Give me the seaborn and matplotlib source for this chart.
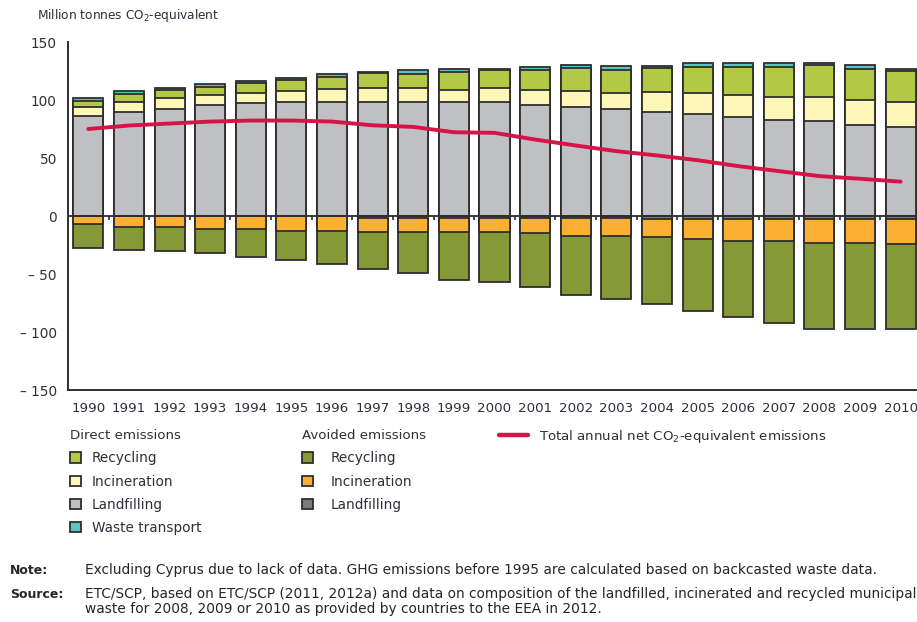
import numpy as np
import pandas as pd
import matplotlib
matplotlib.use("Agg")
import matplotlib.pyplot as plt
import seaborn as sns
from matplotlib.patches import Patch
from matplotlib.lines import Line2D

years = [str(y) for y in range(1990, 2011)]

# Direct emissions (Mt CO2-eq)
direct_landfilling = [86, 89.5, 92.5, 95.5, 97, 98, 98.5, 98.5, 98.5, 98.5, 98.5,
                      95.5, 94, 92, 89.5, 87.5, 85, 83, 82, 78.5, 77]
direct_incineration = [8, 9, 9, 9, 9, 9.5, 11, 12, 11.5, 10.5, 12,
                       13.5, 14, 14, 17, 18.5, 19.5, 20, 21, 21.5, 21]
direct_recycling = [5.5, 7, 7.5, 7, 8.5, 10, 10, 12.5, 12.5, 15, 15,
                    16.5, 19.5, 20, 21, 22.5, 24, 25.5, 27, 27, 27]
direct_transport = [2.5, 2, 1.5, 2, 1.5, 1.5, 3, 1.5, 3, 3, 1.5,
                    3, 3, 3, 1.5, 3.5, 3.5, 3.5, 1.5, 3.5, 1.5]

# Avoided emissions (Mt CO2-eq, shown as negative)
avoided_landfilling = [0, 0, 0, 0, 0, 0, 0, 1.5, 1.5, 1.5, 1.5,
                       1.5, 1.5, 1.5, 2.5, 2.5, 2.5, 2.5, 2.5, 2.5, 2.5]
avoided_incineration = [7, 9.5, 9.5, 11, 11, 13, 13, 12, 12.5, 12.5, 12,
                        13.5, 15.5, 15.5, 16, 17.5, 19, 19, 20.5, 20.5, 22]
avoided_recycling = [20.5, 20, 21, 21, 24.5, 25, 28.5, 32.5, 35, 41, 43,
                     46, 51.5, 54.5, 57.5, 62, 65.5, 71, 74, 74, 72.5]

# Total annual net emissions
net_total = [75, 78, 79.7, 81.4, 82.3, 82.3, 81.4, 78.2, 76.8, 72.2, 71.7,
             65.9, 60.8, 55.9, 52.2, 48.1, 43, 38.7, 34.4, 32.1, 29.6]

yticks = [150, 100, 50, 0, -50, -100, -150]
ytick_labels = ["150", "100", "50", "0", "\u2013 50", "\u2013 100", "\u2013 150"]

c_d_rec = "#b3c945"
c_d_inc = "#fff7b8"
c_d_lan = "#bfc0c4"
c_d_tra = "#5fc3c3"
c_a_rec = "#859a37"
c_a_inc = "#fbb034"
c_a_lan = "#7c7c7e"
c_net = "#d51548"
edge = "#2e2e2e"
txt = "#2f2f3a"

df = pd.DataFrame({
    "year": years,
    "dl": direct_landfilling, "di": direct_incineration,
    "dr": direct_recycling, "dt": direct_transport,
    "al": avoided_landfilling, "ai": avoided_incineration, "ar": avoided_recycling,
    "net": net_total,
})
df["pos_l"] = df["dl"]
df["pos_li"] = df["pos_l"] + df["di"]
df["pos_lir"] = df["pos_li"] + df["dr"]
df["pos_all"] = df["pos_lir"] + df["dt"]
df["neg_l"] = -df["al"]
df["neg_li"] = df["neg_l"] - df["ai"]
df["neg_all"] = df["neg_li"] - df["ar"]
df["idx"] = np.arange(len(df))

sns.set_style("white")
plt.rcParams["font.family"] = ["DejaVu Sans"]

fig = plt.figure(figsize=(9.17, 6.22), dpi=100)
ax = fig.add_axes([68 / 917, 1 - 390 / 622, 853 / 917, 348 / 622])

bw = 0.74
layers = [
    ("pos_all", c_d_tra), ("pos_lir", c_d_rec), ("pos_li", c_d_inc), ("pos_l", c_d_lan),
    ("neg_all", c_a_rec), ("neg_li", c_a_inc), ("neg_l", c_a_lan),
]
for col, colr in layers:
    sns.barplot(data=df, x="year", y=col, color=colr, width=bw,
                edgecolor=edge, linewidth=1.3, saturation=1, ax=ax, zorder=2)

sns.lineplot(data=df, x="idx", y="net", color=c_net, linewidth=2.8, ax=ax,
             zorder=5, legend=False)

n = len(years)
ax.axhline(0, color=edge, linewidth=1.3, zorder=4)
bounds = np.arange(n) - 0.5
ax.vlines(bounds[1:], -3.5, 0, color=edge, linewidth=1.2, zorder=4)

ax.set_xlim(-0.46, n - 1 + 0.46)
ax.set_ylim(-150, 150)
ax.set_yticks(yticks)
ax.set_yticklabels(ytick_labels)
ax.set_xticks(np.arange(n))
ax.set_xticklabels(years)
ax.set_xticks(np.append(bounds, n - 0.5), minor=True)
ax.tick_params(axis="x", which="major", length=0, pad=9, labelsize=9.6, labelcolor=txt)
ax.tick_params(axis="x", which="minor", length=4.5, width=1.3, color=edge, direction="out")
ax.tick_params(axis="y", length=5, width=1.3, color=edge, direction="out",
               labelsize=9.8, labelcolor=txt, pad=3)
ax.set_xlabel("")
ax.set_ylabel("")
for s in ["top", "right"]:
    ax.spines[s].set_visible(False)
for s in ["left", "bottom"]:
    ax.spines[s].set_color(edge)
    ax.spines[s].set_linewidth(1.4)

fig.text(37 / 917, 1 - 16 / 622, "Million tonnes CO$_2$-equivalent", fontsize=8.7,
         color=txt, va="center", ha="left")


def mk(c):
    return Patch(facecolor=c, edgecolor=edge, linewidth=1.3)


leg_kw = dict(frameon=False, fontsize=9.8, handlelength=0.8, handleheight=0.8,
              labelspacing=0.68, alignment="left",
              title_fontsize=9.6, borderaxespad=0, borderpad=0)
l1 = fig.legend([mk(c_d_rec), mk(c_d_inc), mk(c_d_lan), mk(c_d_tra)],
                ["Recycling", "Incineration", "Landfilling", "Waste transport"],
                title="Direct emissions", loc="upper left", handletextpad=0.8,
                bbox_to_anchor=(70 / 917, 1 - 429 / 622), **leg_kw)
l2 = fig.legend([mk(c_a_rec), mk(c_a_inc), mk(c_a_lan)],
                ["Recycling", "Incineration", "Landfilling"],
                title="Avoided emissions", loc="upper left", handletextpad=1.3,
                bbox_to_anchor=(302 / 917, 1 - 429 / 622), **leg_kw)
l3 = fig.legend([Line2D([], [], color=c_net, linewidth=3.2)],
                ["Total annual net CO$_2$-equivalent emissions"], loc="upper left",
                bbox_to_anchor=(499 / 917, 1 - 428 / 622), frameon=False, fontsize=9.6,
                handlelength=2.2, handletextpad=0.8, borderaxespad=0, borderpad=0)
for lg in (l1, l2, l3):
    for t in lg.get_texts():
        t.set_color(txt)
    lg.get_title().set_color(txt)

fig.text(10 / 917, 1 - 570 / 622, "Note:", fontsize=9, fontweight="bold", va="center")
fig.text(85 / 917, 1 - 570 / 622,
         "Excluding Cyprus due to lack of data. GHG emissions before 1995 are calculated based on backcasted waste data.",
         fontsize=9.9, va="center")
fig.text(10 / 917, 1 - 594 / 622, "Source:", fontsize=9, fontweight="bold", va="center")
fig.text(85 / 917, 1 - 594 / 622,
         "ETC/SCP, based on ETC/SCP (2011, 2012a) and data on composition of the landfilled, incinerated and recycled municipal",
         fontsize=9.9, va="center")
fig.text(85 / 917, 1 - 609 / 622,
         "waste for 2008, 2009 or 2010 as provided by countries to the EEA in 2012.",
         fontsize=9.9, va="center")

fig.savefig("out.png", dpi=100)
